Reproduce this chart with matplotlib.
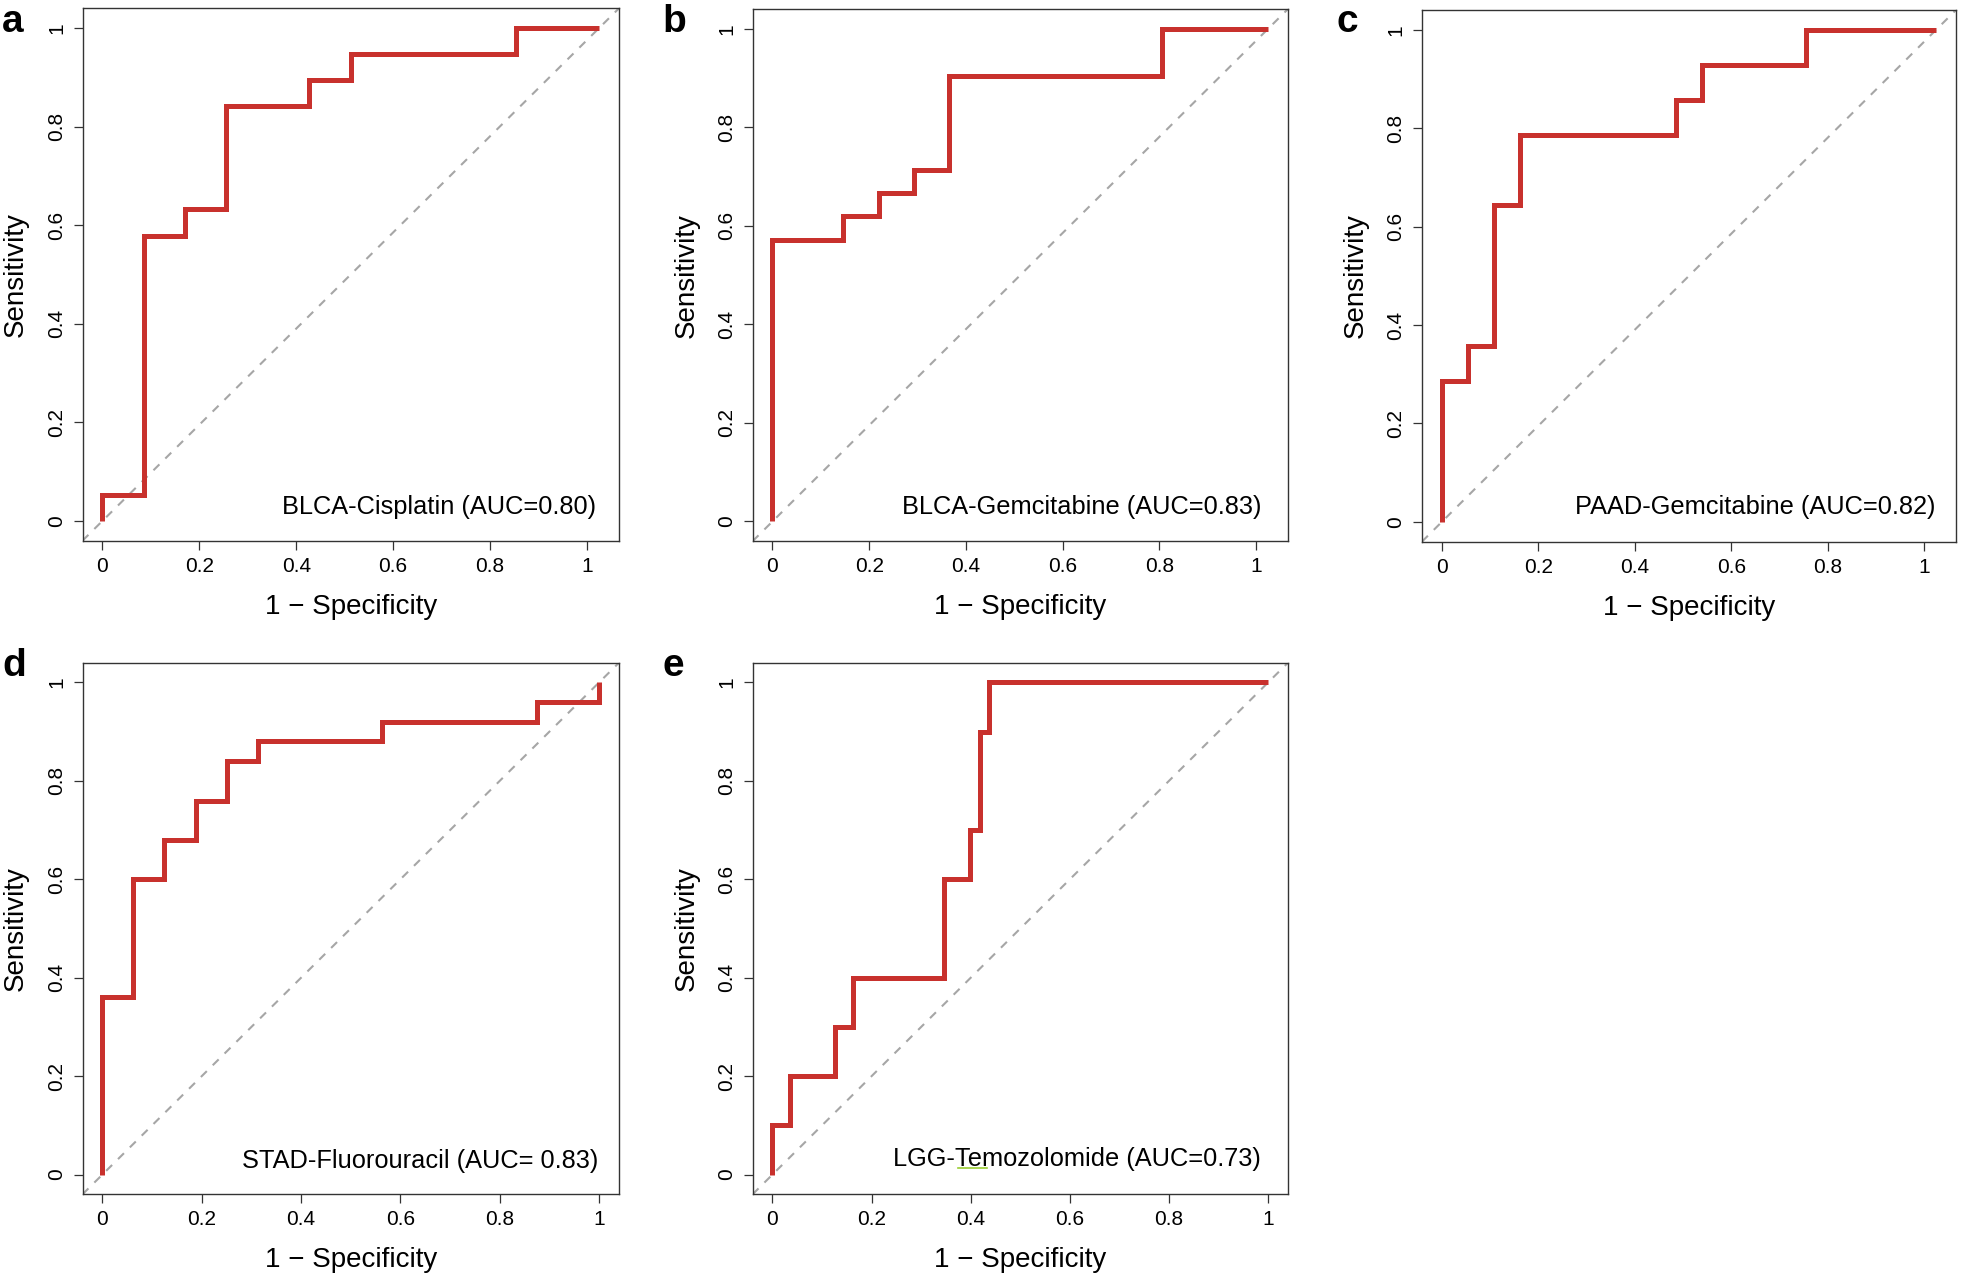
import matplotlib
matplotlib.use("Agg")
import matplotlib.pyplot as plt

plt.rcParams['font.family'] = ['Liberation Sans', 'DejaVu Sans']

# ---- data (ROC corner points) ----
panel_letters = ["a", "b", "c", "d", "e"]
labels = ["BLCA-Cisplatin (AUC=0.80)",
          "BLCA-Gemcitabine (AUC=0.83)",
          "PAAD-Gemcitabine (AUC=0.82)",
          "STAD-Fluorouracil (AUC= 0.83)",
          "LGG-Temozolomide (AUC=0.73)"]

fpr_a = [0, 0, 0.085, 0.171, 0.256, 0.427, 0.5125, 0.854, 1.025]
tpr_a = [0, 0.0526, 0.579, 0.632, 0.842, 0.895, 0.947, 1.0, 1.0]

fpr_b = [0, 0, 0.146, 0.2196, 0.293, 0.366, 0.805, 1.025]
tpr_b = [0, 0.5714, 0.619, 0.667, 0.714, 0.905, 1.0, 1.0]

fpr_c = [0, 0, 0.054, 0.108, 0.162, 0.4855, 0.539, 0.755, 1.025]
tpr_c = [0, 0.2857, 0.357, 0.643, 0.786, 0.857, 0.929, 1.0, 1.0]

fpr_d = [0, 0, 0.0625, 0.125, 0.1875, 0.25, 0.3125, 0.5625, 0.875, 1.0]
tpr_d = [0, 0.36, 0.60, 0.68, 0.76, 0.84, 0.88, 0.92, 0.96, 1.0]

fpr_e = [0, 0, 0.035, 0.127, 0.163, 0.347, 0.399, 0.418, 0.436, 1.0]
tpr_e = [0, 0.1, 0.2, 0.3, 0.4, 0.6, 0.7, 0.9, 1.0, 1.0]

fprs = [fpr_a, fpr_b, fpr_c, fpr_d, fpr_e]
tprs = [tpr_a, tpr_b, tpr_c, tpr_d, tpr_e]

tick_vals = [0, 0.2, 0.4, 0.6, 0.8, 1]
tick_labels = ["0", "0.2", "0.4", "0.6", "0.8", "1"]

# ---- layout (figure pixels 1961 x 1275) ----
W, H = 1961, 1275
fig = plt.figure(figsize=(W / 100, H / 100), dpi=100)

boxes = [  # left, top, right, bottom in pixels
    (82.5, 8.3, 619, 540.7),
    (752.6, 9.0, 1288, 541.2),
    (1422, 10.0, 1956, 541.6),
    (82.5, 662.7, 619, 1194.3),
    (752.6, 662.7, 1288, 1194.3),
]
letter_pos = [(2, 32.3), (662, 32.3), (1336, 32.3), (2, 676), (662, 676)]
text_pos = [(0.958, 0.051), (0.951, 0.052), (0.961, 0.052), (0.961, 0.049), (0.949, 0.054)]

red = '#C8312D'

for i in range(5):
    l, t, r, b = boxes[i]
    ax = fig.add_axes([l / W, 1 - b / H, (r - l) / W, (b - t) / H])
    fx, ty = fprs[i], tprs[i]
    xmax = max(fx)
    ax.set_xlim(-0.04 * xmax, xmax * 1.04)
    ax.set_ylim(-0.04, 1.04)
    ax.axline((0, 0), (xmax, 1), color='#A6A6A6', lw=1.5, dashes=(4, 4), zorder=1)
    ax.plot(fx, ty, drawstyle='steps-post', color=red, lw=3.6,
            solid_joinstyle='miter', solid_capstyle='butt', zorder=2)
    ax.set_xticks(tick_vals)
    ax.set_xticklabels(tick_labels)
    ax.set_yticks(tick_vals)
    ax.set_yticklabels(tick_labels, rotation=90, va='center')
    ax.tick_params(axis='both', length=6.7, width=0.9, color='#333333',
                   labelsize=15)
    ax.tick_params(axis='x', pad=4.8)
    ax.tick_params(axis='y', pad=5.2)
    for s in ax.spines.values():
        s.set_linewidth(1.0)
        s.set_color('#333333')
    ax.set_xlabel("1 \u2212 Specificity", fontsize=20, labelpad=13)
    ax.set_ylabel("Sensitivity", fontsize=20, labelpad=12.8)
    tx, tyy = text_pos[i]
    ax.text(tx, tyy, labels[i], transform=ax.transAxes, ha='right',
            va='baseline', fontsize=18.3)
    if i == 4:
        ax.plot([0.383, 0.437], [0.05, 0.05], transform=ax.transAxes,
                color='#9ACD32', lw=1.2, zorder=3)
    lx, ly = letter_pos[i]
    fig.text(lx / W, 1 - ly / H, panel_letters[i], fontsize=28,
             fontweight='bold', ha='left', va='baseline')

fig.savefig("out.png", dpi=100)
